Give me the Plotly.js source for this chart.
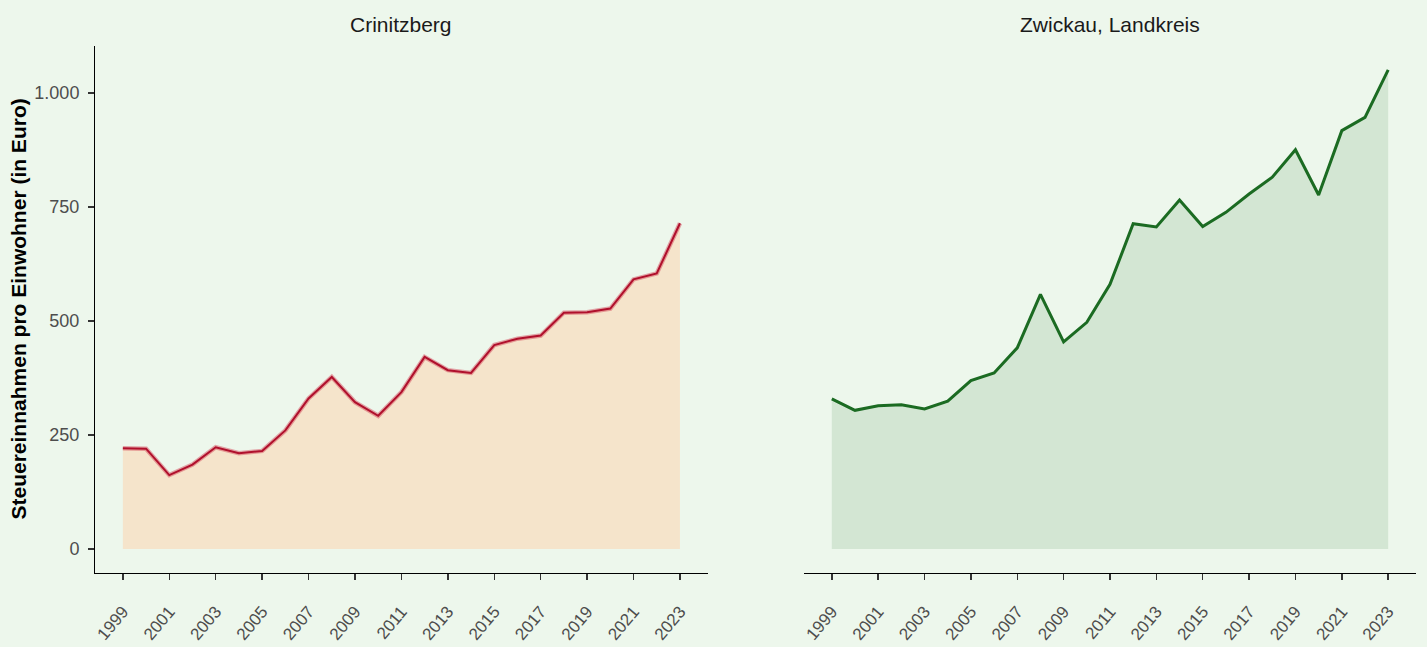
<!DOCTYPE html>
<html>
<head>
<meta charset="utf-8">
<script src="https://cdn.plot.ly/plotly-3.0.1.min.js"></script>
<style>html,body{margin:0;padding:0;background:#EDF7EC;}#chart{width:1427px;height:647px;}</style>
</head>
<body>
<div id="chart"></div>
<script>
const years = [1999,2000,2001,2002,2003,2004,2005,2006,2007,2008,2009,2010,2011,2012,2013,2014,2015,2016,2017,2018,2019,2020,2021,2022,2023];
const crinitzberg = [221,220,162,185,223,210,215,260,330,377,322,292,344,421,392,386,447,461,468,518,519,527,591,604,714];
const zwickau = [329,304,314,316,307,324,369,386,441,558,454,497,580,713,706,765,707,738,778,815,875,776,917,946,1050];
const panelTitles = ["Crinitzberg", "Zwickau, Landkreis"];
const tickYears = [1999,2001,2003,2005,2007,2009,2011,2013,2015,2017,2019,2021,2023];
const tickYearLabels = tickYears.map(String);
const yTicks = [0,250,500,750,1000];
const yTitle = "Steuereinnahmen pro Einwohner (in Euro)";

const traces = [
  {x: years, y: crinitzberg, type:'scatter', mode:'none', fill:'tozeroy', fillcolor:'#F5E4CB', xaxis:'x', yaxis:'y', hoverinfo:'skip'},
  {x: years, y: crinitzberg, type:'scatter', mode:'lines', line:{color:'rgba(210,60,80,0.45)', width:4.5}, xaxis:'x', yaxis:'y', hoverinfo:'skip'},
  {x: years, y: crinitzberg, type:'scatter', mode:'lines', line:{color:'#B0102C', width:2}, xaxis:'x', yaxis:'y'},
  {x: years, y: zwickau, type:'scatter', mode:'none', fill:'tozeroy', fillcolor:'#D3E6D3', xaxis:'x2', yaxis:'y2', hoverinfo:'skip'},
  {x: years, y: zwickau, type:'scatter', mode:'lines', line:{color:'#1B6B22', width:3}, xaxis:'x2', yaxis:'y2'}
];

const xCommon = {
  range:[1997.8, 2024.2], tickmode:'array', tickvals: tickYears, ticktext: tickYearLabels,
  tickangle:-50, ticks:'outside', ticklen:6, tickwidth:1.5, tickcolor:'#333333',
  showline:true, linecolor:'#000000', linewidth:1, showgrid:false, zeroline:false,
  ticklabelstandoff:15,
  tickfont:{family:'Liberation Sans, Arial, sans-serif', size:17, color:'#4D4D4D'}, fixedrange:true
};
const yRange = [-52.5, 1102.5];

const layout = {
  width:1427, height:647,
  paper_bgcolor:'#EDF7EC', plot_bgcolor:'#EDF7EC',
  margin:{l:95, r:11, t:46, b:74},
  showlegend:false,
  separators:',.',
  font:{family:'Liberation Sans, Arial, sans-serif'},
  xaxis: Object.assign({}, xCommon, {domain:[0, 0.4639], anchor:'y'}),
  xaxis2: Object.assign({}, xCommon, {domain:[0.5367, 1], anchor:'y2'}),
  yaxis: {range:yRange, domain:[0,1], anchor:'x', tickmode:'array', tickvals:yTicks, tickformat:',d',
    ticks:'outside', ticklen:6, tickwidth:1.5, tickcolor:'#333333', showline:true, linecolor:'#000000', linewidth:1,
    ticklabelstandoff:5,
    showgrid:false, zeroline:false, tickfont:{family:'Liberation Sans, Arial, sans-serif', size:18, color:'#4D4D4D'}, fixedrange:true},
  yaxis2: {range:yRange, domain:[0,1], anchor:'x2', showticklabels:false, ticks:'', showline:false, showgrid:false, zeroline:false, fixedrange:true},
  annotations: [
    {text: panelTitles[0], xref:'x domain', yref:'paper', x:0.5, y:1, yshift:22, xanchor:'center', yanchor:'middle', showarrow:false, font:{size:21, color:'#1A1A1A'}},
    {text: panelTitles[1], xref:'x2 domain', yref:'paper', x:0.5, y:1, yshift:22, xanchor:'center', yanchor:'middle', showarrow:false, font:{size:21, color:'#1A1A1A'}},
    {text: '<b>'+yTitle+'</b>', xref:'paper', yref:'paper', x:(18-95)/1321, y:0.5, xanchor:'center', yanchor:'middle', textangle:-90, showarrow:false, font:{size:21, color:'#000000'}}
  ]
};
Plotly.newPlot('chart', traces, layout, {displayModeBar:false, staticPlot:true});
</script>
</body>
</html>
